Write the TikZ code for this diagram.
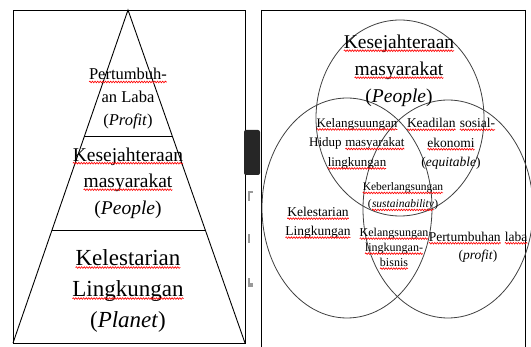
\documentclass[tikz,border=0pt]{standalone}
\usepackage{fontspec}
\setmainfont{Liberation Serif}
\usetikzlibrary{calc,decorations.pathmorphing}

% red spell-check wave under a word
\newcommand\wavy[1]{\tikz[baseline=(w.base)]{%
  \node[inner sep=0pt,outer sep=0pt] (w) {#1};
  \draw[red,line width=0.65pt,decorate,decoration={snake,amplitude=0.8pt,segment length=2.6pt}]
    ([yshift=-2pt]w.base west) -- ([yshift=-2pt]w.base east);}}

\begin{document}
\begin{tikzpicture}[x=1pt,y=-1pt,
  frame/.style={draw=black,line width=0.9pt},
  ring/.style={draw=black!75,line width=0.8pt},
  lbl/.style={inner sep=0pt,align=center,text=black}]
\useasboundingbox (0,0) rectangle (531,347);

% left panel: pyramid
\draw[frame] (13,10) rectangle (245,343);
\coordinate (apex) at (128,10);
\coordinate (bl) at (13,343);
\coordinate (br) at (245,343);
\draw[frame] (bl) -- (apex) -- (br);
\draw[frame] ($(apex)!0.381!(bl)$) -- ($(apex)!0.381!(br)$);
\draw[frame] ($(apex)!0.661!(bl)$) -- ($(apex)!0.661!(br)$);

\node[lbl,font=\fontsize{16.5}{23}\selectfont] (profit) at (128,99)
  {\wavy{Pertumbuh-}\\an Laba\\(\textit{Profit})};
\node[lbl,font=\fontsize{19.5}{26.5}\selectfont] (people) at (128,183)
  {\wavy{Kesejahteraan}\\\wavy{masyarakat}\\(\textit{People})};
\node[lbl,font=\fontsize{23}{31}\selectfont] (planet) at (128,291)
  {\wavy{Kelestarian}\\\wavy{Lingkungan}\\(\textit{Planet})};

% tab between the panels
\fill[black!85,rounded corners=2pt] (244,130) rectangle (260,175);
\fill[black!40] (248,191) rectangle (249.5,201);
\fill[black!40] (248,191) rectangle (253,193);
\fill[black!40] (248,234) rectangle (249.5,243);
\fill[black!40] (248,278) rectangle (249.5,287);
\fill[black!40] (248,283) rectangle (253,287);

% right panel: three circles
\draw[frame] (261,10) -- (525,10);
\draw[frame] (261,10) -- (261,347);
\draw[frame] (525,10) -- (525,347);

\draw[ring] (400,118) ellipse [x radius=84,y radius=98];
\draw[ring] (347,208) ellipse [x radius=85,y radius=110];
\draw[ring] (448,209) ellipse [x radius=85,y radius=109];

\node[lbl,font=\fontsize{19.5}{27}\selectfont] (ppl) at (399,71)
  {\wavy{Kesejahteraan}\\\wavy{masyarakat}\\(\textit{People})};
\node[lbl,font=\fontsize{13}{19.5}\selectfont] (hidup) at (357,144)
  {\wavy{Kelangsuungan}\\Hidup \wavy{masyarakat}\\\wavy{lingkungan}};
\node[lbl,font=\fontsize{13.5}{19.5}\selectfont] (adil) at (451,144)
  {\wavy{Keadilan} \wavy{sosial-}\\\wavy{ekonomi}\\(\textit{equitable})};
\node[lbl,font=\fontsize{11.5}{17}\selectfont] (sust) at (403,197)
  {\wavy{Keberlangsungan}\\(\wavy{\textit{sustainability}})};
\node[lbl,font=\fontsize{13.5}{19}\selectfont] (lestari) at (318,223)
  {\wavy{Kelestarian}\\\wavy{Lingkungan}};
\node[lbl,font=\fontsize{12}{15}\selectfont] (bisnis) at (394,249)
  {\wavy{Kelangsungan}\\\wavy{lingkungan-}\\\wavy{bisnis}};
\node[lbl,font=\fontsize{13.5}{18}\selectfont] (laba) at (478,247)
  {\wavy{Pertumbuhan} \wavy{laba}\\(\textit{profit})};
\end{tikzpicture}
\end{document}
